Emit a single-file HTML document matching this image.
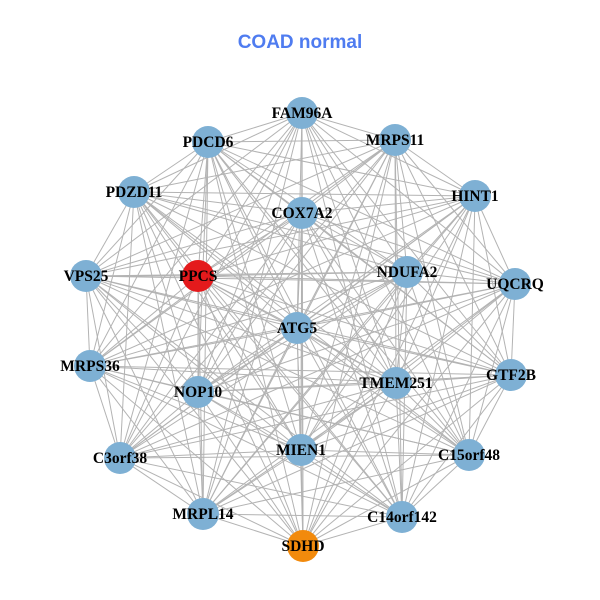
<!DOCTYPE html>
<html><head><meta charset="utf-8"><style>body{margin:0;background:#fff}svg{display:block}</style></head>
<body>
<svg id="s" width="600" height="600" xmlns="http://www.w3.org/2000/svg">
<text x="300" y="48" text-anchor="middle" font-family="Liberation Sans, sans-serif" font-weight="bold" font-size="19" fill="#4f7cf0">COAD normal</text>
<g id="e" stroke="#b3b3b3" stroke-width="1"></g>
<g id="n"></g>
<g id="l" font-family="Liberation Serif, serif" font-weight="bold" font-size="15.5" text-anchor="middle" fill="#000"></g>
</svg>
<script>
var N=[["FAM96A",302,113],["MRPS11",395,140],["PDCD6",208,142],["HINT1",475,196],["PDZD11",134,192],["COX7A2",302,213],["NDUFA2",407,272],["UQCRQ",515,284],["VPS25",86,276],["PPCS",198,276,"#e41a1c"],["ATG5",297,328],["MRPS36",90,366],["GTF2B",511,375],["NOP10",198,392],["TMEM251",396,383],["C3orf38",120,458],["MIEN1",301,450],["C15orf48",469,455],["MRPL14",203,514],["C14orf142",402,517],["SDHD",303,546,"#f28a0c"]];
var ns="http://www.w3.org/2000/svg",E=document.getElementById("e"),G=document.getElementById("n"),L=document.getElementById("l");
for(var i=0;i<N.length;i++)for(var j=i+1;j<N.length;j++){var a=document.createElementNS(ns,"line");a.setAttribute("x1",N[i][1]);a.setAttribute("y1",N[i][2]);a.setAttribute("x2",N[j][1]);a.setAttribute("y2",N[j][2]);E.appendChild(a);}
N.forEach(function(d){var c=document.createElementNS(ns,"circle");c.setAttribute("cx",d[1]);c.setAttribute("cy",d[2]);c.setAttribute("r",16);c.setAttribute("fill",d[3]||"#7eb0d4");G.appendChild(c);
var t=document.createElementNS(ns,"text");t.setAttribute("x",d[1]);t.setAttribute("y",d[2]+5);t.textContent=d[0];L.appendChild(t);});
</script>
</body></html>
